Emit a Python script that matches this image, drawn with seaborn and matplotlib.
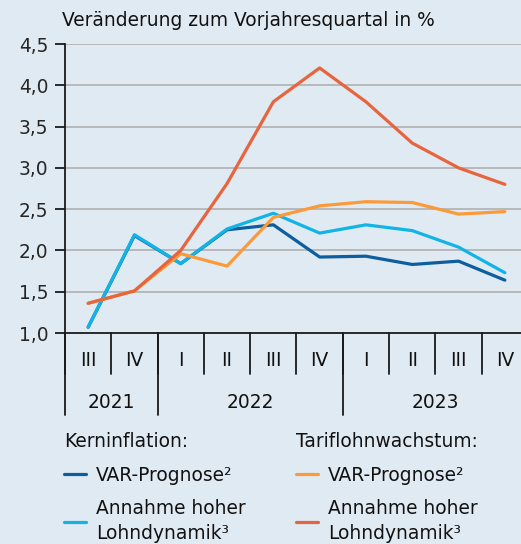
import numpy as np
import pandas as pd
import seaborn as sns
import matplotlib
matplotlib.use("Agg")
import matplotlib.pyplot as plt
from matplotlib.lines import Line2D
import matplotlib.transforms as mtrans

quarters = ["III", "IV", "I", "II", "III", "IV", "I", "II", "III", "IV"]
years = ["2021", "2022", "2023"]
year_quarter_counts = [2, 4, 4]

kern_var = [1.07, 2.18, 1.84, 2.25, 2.31, 1.92, 1.93, 1.83, 1.87, 1.64]
kern_hoch = [1.07, 2.19, 1.84, 2.26, 2.45, 2.21, 2.31, 2.24, 2.04, 1.73]
tarif_var = [1.36, 1.51, 1.96, 1.81, 2.40, 2.54, 2.59, 2.58, 2.44, 2.47]
tarif_hoch = [1.36, 1.51, 2.00, 2.81, 3.80, 4.21, 3.80, 3.30, 3.00, 2.80]

series_names = ["kern_var", "kern_hoch", "tarif_var", "tarif_hoch"]
series_vals = [kern_var, kern_hoch, tarif_var, tarif_hoch]
colors = {"kern_var": "#0d5e9e", "kern_hoch": "#12b4e6",
          "tarif_var": "#fb9a38", "tarif_hoch": "#e8643c"}
labels = {"kern_var": "VAR-Prognose²", "kern_hoch": "Annahme hoher\nLohndynamik³",
          "tarif_var": "VAR-Prognose²", "tarif_hoch": "Annahme hoher\nLohndynamik³"}

rows = []
for name, vals in zip(series_names, series_vals):
    for i, v in enumerate(vals):
        rows.append({"pos": i, "val": v, "series": name})
df = pd.DataFrame(rows)

bg = "#dfeaf3"
FS = 13.4
sns.set_theme(style="white")
plt.rcParams["font.family"] = ["DejaVu Sans"]
plt.rcParams["text.color"] = "#111111"

fig = plt.figure(figsize=(5.21, 5.44), dpi=100, facecolor=bg)
ax = fig.add_axes([65 / 521, 1 - 333 / 544, 1 - 65 / 521, (333 - 44) / 544])
ax.set_facecolor(bg)

sns.lineplot(data=df, x="pos", y="val", hue="series", hue_order=series_names,
             palette=colors, linewidth=2.3, legend=False, ax=ax, zorder=3)

n = len(quarters)
ax.set_xlim(-0.5, (521 - 65) / 46.3 - 0.5)
ax.set_ylim(1.0, 4.5)
yt = np.arange(1.0, 4.51, 0.5)
ax.set_yticks(yt)
ax.set_yticklabels([f"{v:.1f}".replace(".", ",") for v in yt], fontsize=FS)
for v in yt[1:]:
    ax.axhline(v, color="#b4b4b4", linewidth=1.3, zorder=1)
ax.set_xticks([])
ax.set_xlabel("")
ax.set_ylabel("")
for s in ["top", "right"]:
    ax.spines[s].set_visible(False)
for s in ["left", "bottom"]:
    ax.spines[s].set_color("#1a1a1a")
    ax.spines[s].set_linewidth(1.3)
ax.tick_params(axis="y", left=True, length=7, width=1.3, color="#1a1a1a", pad=5)

trans = mtrans.blended_transform_factory(ax.transData, ax.transAxes)
ax_h = 333 - 44
q_len = 41 / ax_h
y_len = 82 / ax_h
for i in range(n):
    ax.plot([i - 0.5, i - 0.5], [0, -q_len], transform=trans, color="#1a1a1a",
            lw=1.3, clip_on=False)
    ax.text(i, -27 / ax_h, quarters[i], transform=trans, ha="center", va="center",
            fontsize=FS)
start = 0
for yr, cnt in zip(years, year_quarter_counts):
    ax.plot([start - 0.5, start - 0.5], [0, -y_len], transform=trans, color="#1a1a1a",
            lw=1.3, clip_on=False)
    ax.text(start + (cnt - 1) / 2, -69 / ax_h, yr, transform=trans, ha="center",
            va="center", fontsize=FS)
    start += cnt

fig.text(62 / 521, 1 - 20 / 544, "Veränderung zum Vorjahresquartal in %",
         ha="left", va="center", fontsize=FS)

def make_legend(names, title, x):
    handles = [Line2D([], [], color=colors[nm], lw=2.3) for nm in names]
    leg = fig.legend(handles, [labels[nm] for nm in names], title=title,
                     loc="upper left", bbox_to_anchor=(x, 1 - 432 / 544),
                     frameon=False, fontsize=FS,
                     title_fontproperties={"size": FS, "weight": "normal"},
                     handlelength=1.2, handletextpad=0.5, labelspacing=0.78,
                     borderaxespad=0, borderpad=0)
    leg._legend_box.align = "left"
    for t in leg.get_texts():
        t.set_linespacing(1.42)
    return leg

make_legend(["kern_var", "kern_hoch"], "Kerninflation:", 64 / 521)
make_legend(["tarif_var", "tarif_hoch"], "Tariflohnwachstum:", 296 / 521)

fig.savefig("out.png", dpi=100, facecolor=bg)
